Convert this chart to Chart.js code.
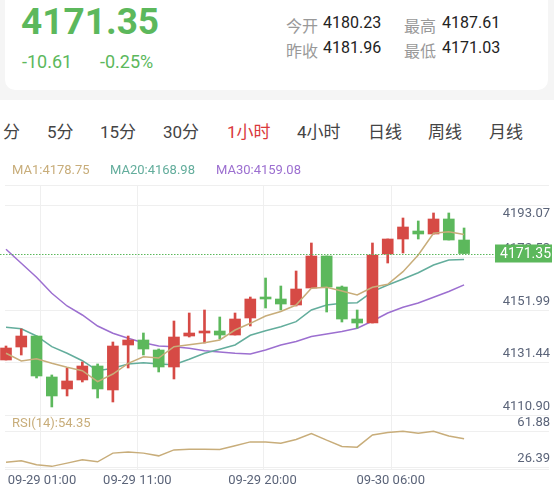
<!DOCTYPE html>
<html><head><meta charset="utf-8">
<script src="https://cdn.jsdelivr.net/npm/chart.js@4.4.0/dist/chart.umd.min.js"></script>
<style>
body{margin:0;width:554px;height:494px;background:#fff;font-family:Roboto,"Noto Sans CJK SC",sans-serif;position:relative;overflow:hidden}
#top{position:absolute;left:0;top:0;width:554px;height:100px;background:#f5f5f5}
#card{position:absolute;left:5px;top:-10px;width:543px;height:100px;background:#fff;border-radius:10px}
.abs{position:absolute;white-space:nowrap}
#big{left:21px;top:0px;font-size:37px;font-weight:bold;color:#5cb85c}
.chg{top:51px;font-size:18px;color:#5cb85c}
.lab{font-size:16px;color:#999}
.val{font-size:16px;color:#222}
.tab{top:118px;font-size:17px;color:#444}
#c{position:absolute;left:0;top:160px}
</style></head><body>
<div id="top"><div id="card"></div></div>
<div class="abs" id="big">4171.35</div>
<div class="abs chg" style="left:22px">-10.61</div>
<div class="abs chg" style="left:100px">-0.25%</div>
<div class="abs lab" style="left:286px;top:13px">今开</div>
<div class="abs val" style="left:323px;top:13px">4180.23</div>
<div class="abs lab" style="left:404px;top:13px">最高</div>
<div class="abs val" style="left:442px;top:13px">4187.61</div>
<div class="abs lab" style="left:286px;top:38px">昨收</div>
<div class="abs val" style="left:323px;top:38px">4181.96</div>
<div class="abs lab" style="left:404px;top:38px">最低</div>
<div class="abs val" style="left:442px;top:38px">4171.03</div>
<div class="abs tab" style="left:3px">分</div>
<div class="abs tab" style="left:47px">5分</div>
<div class="abs tab" style="left:100px">15分</div>
<div class="abs tab" style="left:163px">30分</div>
<div class="abs tab" style="left:227px;color:#d9393b">1小时</div>
<div class="abs tab" style="left:297px">4小时</div>
<div class="abs tab" style="left:368px">日线</div>
<div class="abs tab" style="left:428px">周线</div>
<div class="abs tab" style="left:489px">月线</div>
<canvas id="c" width="554" height="334"></canvas>
<script>
const opens  = [4129.69,4134.77,4139.07,4123.04,4118.35,4121.87,4127.34,4117.96,4135.55,4137.51,4133.60,4126.95,4139.07,4140.25,4141.03,4139.46,4146.12,4154.33,4153.55,4151.20,4157.85,4170.37,4158.24,4145.72,4144.16,4171.15,4177.02,4180.15,4178.98,4184.85,4176.63];
const closes = [4134.38,4139.07,4123.43,4115.61,4121.48,4127.34,4118.35,4135.16,4137.51,4133.99,4126.95,4138.68,4140.25,4141.03,4139.46,4145.72,4153.55,4153.55,4151.59,4157.46,4170.37,4158.24,4145.72,4144.16,4170.76,4177.02,4181.72,4178.98,4184.85,4176.63,4171.35];
const highs  = [4135.16,4141.81,4139.07,4123.83,4126.56,4128.91,4128.13,4136.73,4139.07,4140.25,4133.99,4144.94,4148.07,4149.25,4146.51,4148.07,4154.33,4161.76,4158.63,4164.50,4175.46,4170.37,4158.63,4149.25,4175.46,4177.02,4185.24,4184.07,4187.20,4187.20,4181.33];
const lows   = [4129.69,4131.64,4122.65,4111.31,4115.61,4121.09,4114.83,4113.26,4126.56,4131.64,4125.00,4122.26,4138.68,4136.33,4137.90,4139.46,4142.99,4150.03,4149.25,4150.81,4157.85,4148.46,4144.55,4142.20,4144.16,4167.63,4171.55,4177.02,4178.98,4176.63,4171.35];
const ma1  = [4132.31,4129.30,4130.20,4128.40,4126.83,4125.50,4121.20,4124.21,4128.40,4130.98,4130.47,4134.89,4135.67,4136.45,4137.51,4141.42,4144.04,4146.90,4148.66,4151.20,4157.74,4158.13,4156.68,4155.12,4158.13,4159.30,4164.23,4170.76,4179.25,4179.88,4178.75];
const ma20 = [4142.48,4141.93,4139.08,4134.89,4132.31,4129.41,4125.50,4126.44,4128.12,4128.63,4128.12,4127.85,4129.96,4132.31,4133.87,4135.55,4139.35,4141.15,4142.71,4144.67,4149.25,4151.20,4151.87,4152.10,4156.41,4159.03,4161.37,4163.84,4166.85,4168.80,4168.98];
const ma30 = [4172.99,4167.52,4162.04,4155.78,4150.81,4147.29,4142.99,4140.13,4138.18,4136.45,4135.16,4134.89,4134.26,4133.32,4132.82,4132.31,4132.03,4133.60,4135.55,4136.92,4138.88,4139.86,4140.84,4142.09,4144.94,4148.07,4150.30,4151.99,4154.22,4156.48,4159.08];
const rsi  = [31.1,32.6,28.6,27.1,30.3,33.6,31.6,40.2,41.2,40.2,37.5,43.4,44.1,44.1,43.8,47.4,51.3,51.3,50.0,53.7,59.6,53.0,46.8,46.1,58.2,60.6,61.9,59.9,61.9,57.2,54.35];
const priceTickLabels = ["4110.90","4131.44","4151.99","4172.53","4193.07"];
const priceTickValues = [4108.17,4128.71,4149.25,4169.79,4190.33];
const rsiTickLabels = ["26.39","61.88"];
const rsiTickValues = [26.39,61.88];
const timeLabels = ["09-29 01:00","09-29 11:00","09-29 20:00","09-30 06:00"];
const timeIndex = [2.2,8.6,16.8,25.2];
const lastPrice = 4171.35;

const RED='#d64a45', GREEN='#5cb85c';
const col = opens.map((o,i)=>closes[i]>=o?RED:GREEN);
const pts = a=>a.map((v,i)=>({x:i,y:v}));

const overlay = {
  id:'overlay',
  beforeDatasetsDraw(ch){
    const c=ch.ctx, y=ch.scales.y, r=ch.scales.yR, x=ch.scales.x;
    c.save(); c.strokeStyle='#efefef'; c.lineWidth=1;
    const lines=[...priceTickValues.map(v=>y.getPixelForValue(v)),...rsiTickValues.map(v=>r.getPixelForValue(v))];
    lines.forEach(p=>{c.beginPath();c.moveTo(5,Math.round(p)+0.5);c.lineTo(549,Math.round(p)+0.5);c.stroke();});
    const bottom=ch.height-25;
    timeIndex.forEach(t=>{const px=Math.round(x.getPixelForValue(t))+0.5;c.beginPath();c.moveTo(px,25);c.lineTo(px,bottom);c.stroke();});
    c.beginPath();c.moveTo(5,bottom+0.5);c.lineTo(549,bottom+0.5);c.stroke();
    c.beginPath();c.moveTo(5,25.5);c.lineTo(549,25.5);c.stroke();
    c.restore();
  },
  afterDatasetsDraw(ch){
    const c=ch.ctx, y=ch.scales.y, r=ch.scales.yR, x=ch.scales.x;
    c.save();
    c.font='13px Roboto'; c.fillStyle='#5b6479'; c.textAlign='right';
    priceTickValues.forEach((v,i)=>{const p=y.getPixelForValue(v); c.textBaseline= i===4?'top':'bottom'; c.fillText(priceTickLabels[i],550,i===4?p+2:p-2);});
    rsiTickValues.forEach((v,i)=>{const p=r.getPixelForValue(v); c.textBaseline='bottom'; c.fillText(rsiTickLabels[i],550,p-2);});
    const lp=y.getPixelForValue(lastPrice);
    c.strokeStyle=GREEN; c.setLineDash([1.5,1.5]); c.lineWidth=1;
    c.beginPath(); c.moveTo(0,Math.round(lp)+0.5); c.lineTo(495,Math.round(lp)+0.5); c.stroke(); c.setLineDash([]);
    c.fillStyle=GREEN; c.fillRect(495,lp-9,57,18);
    c.fillStyle='#fff'; c.font='14px Roboto'; c.textBaseline='middle'; c.fillText(lastPrice.toFixed(2),551,lp+1);
    c.textAlign='center'; c.textBaseline='middle'; c.font='13px Roboto'; c.fillStyle='#5b6479';
    timeLabels.forEach((t,i)=>c.fillText(t,Math.max(42,x.getPixelForValue(timeIndex[i])),ch.height-13));
    c.textAlign='left'; c.font='13px Roboto';
    c.fillStyle='#c8ad7a'; c.fillText('MA1:'+ma1[ma1.length-1].toFixed(2),12,11);
    c.fillStyle='#63ad9c'; c.fillText('MA20:'+ma20[ma20.length-1].toFixed(2),110,11);
    c.fillStyle='#9c6fd0'; c.fillText('MA30:'+ma30[ma30.length-1].toFixed(2),216,11);
    c.fillStyle='#c8ad7a'; c.fillText('RSI(14):'+rsi[rsi.length-1].toFixed(2),12,264);
    c.restore();
  }
};

new Chart(document.getElementById('c'),{
  data:{datasets:[
    {type:'line',data:pts(ma30),borderColor:'#9c6fd0',borderWidth:1.5,pointRadius:0,yAxisID:'y',order:5},
    {type:'line',data:pts(ma20),borderColor:'#63ad9c',borderWidth:1.5,pointRadius:0,yAxisID:'y',order:4},
    {type:'bar',data:lows.map((l,i)=>({x:i,y:[l,highs[i]]})),backgroundColor:col,barThickness:2,grouped:false,yAxisID:'y',order:3},
    {type:'bar',data:opens.map((o,i)=>({x:i,y:[o,closes[i]]})),backgroundColor:col,barThickness:11,grouped:false,yAxisID:'y',order:2,minBarLength:2},
    {type:'line',data:pts(ma1),borderColor:'#c8ad7a',borderWidth:1.5,pointRadius:0,yAxisID:'y',order:1},
    {type:'line',data:pts(rsi),borderColor:'#c8ad7a',borderWidth:1.5,pointRadius:0,yAxisID:'yR',order:1}
  ]},
  options:{responsive:false,animation:false,devicePixelRatio:1,
    layout:{padding:0},
    plugins:{legend:{display:false},tooltip:{enabled:false}},
    scales:{
      x:{type:'linear',min:-0.393,max:35.89,display:false,offset:false,grid:{offset:false}},
      y:{min:4077.26,max:4207.93,display:false},
      yR:{axis:'y',min:-0.23,max:330.1,display:false}
    }},
  plugins:[overlay]
});
</script></body></html>
